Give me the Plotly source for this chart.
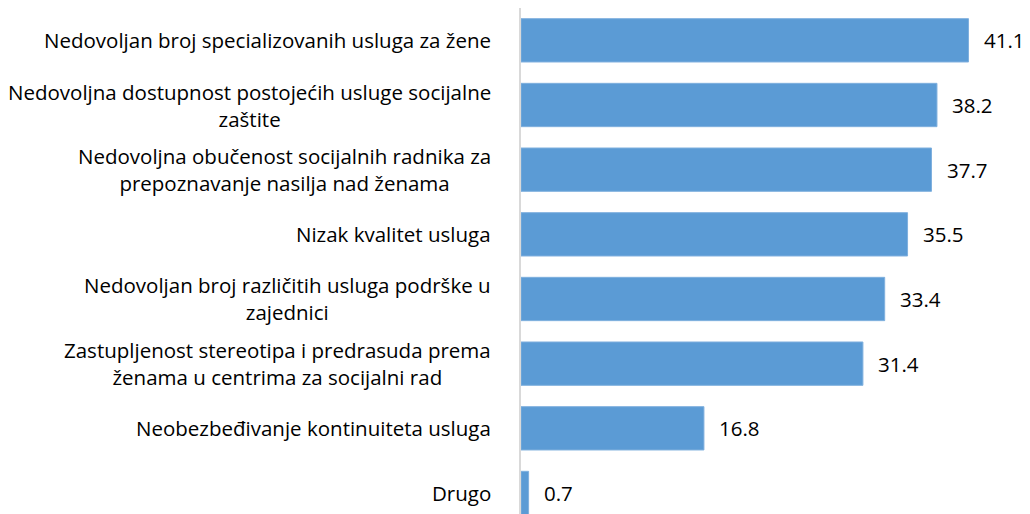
import plotly.graph_objects as go

categories = [
    "Nedovoljan broj specializovanih usluga za žene",
    "Nedovoljna dostupnost postojećih usluge socijalne<br>zaštite",
    "Nedovoljna obučenost socijalnih radnika za<br>prepoznavanje nasilja nad ženama",
    "Nizak kvalitet usluga",
    "Nedovoljan broj različitih usluga podrške u<br>zajednici",
    "Zastupljenost stereotipa i predrasuda prema<br>ženama u centrima za socijalni rad",
    "Neobezbeđivanje kontinuiteta usluga",
    "Drugo",
]
values = [41.1, 38.2, 37.7, 35.5, 33.4, 31.4, 16.8, 0.7]

FONT = "Open Sans"
positions = list(range(len(categories)))

fig = go.Figure(go.Bar(
    x=values,
    y=positions,
    orientation="h",
    marker=dict(color="#5B9BD5", line=dict(color="#7fb0de", width=1)),
    width=0.67,
))

# category labels (centered multi-line, right-anchored at the axis)
for pos, label in zip(positions, categories):
    fig.add_annotation(
        x=0, y=pos, xref="x", yref="y",
        text=label, showarrow=False,
        xanchor="right", yanchor="middle", align="center",
        xshift=-28,
        font=dict(family=FONT, size=20.5, color="#000000"),
    )

# value labels
for pos, v in zip(positions, values):
    fig.add_annotation(
        x=v, y=pos, xref="x", yref="y",
        text=f"{v:.1f}", showarrow=False,
        xanchor="left", yanchor="middle",
        xshift=13,
        font=dict(family=FONT, size=20.5, color="#000000"),
    )

fig.update_layout(
    width=1022,
    height=506,
    margin=dict(l=513, r=19, t=0, b=0),
    plot_bgcolor="white",
    paper_bgcolor="white",
    showlegend=False,
    xaxis=dict(range=[0, 45], visible=False, fixedrange=True),
    yaxis=dict(
        range=[7.325, -0.5],
        showticklabels=False,
        showgrid=False,
        zeroline=False,
        showline=True,
        linecolor="#d9d9d9",
        linewidth=2,
        ticks="",
    ),
)

fig.write_html("out.html")
